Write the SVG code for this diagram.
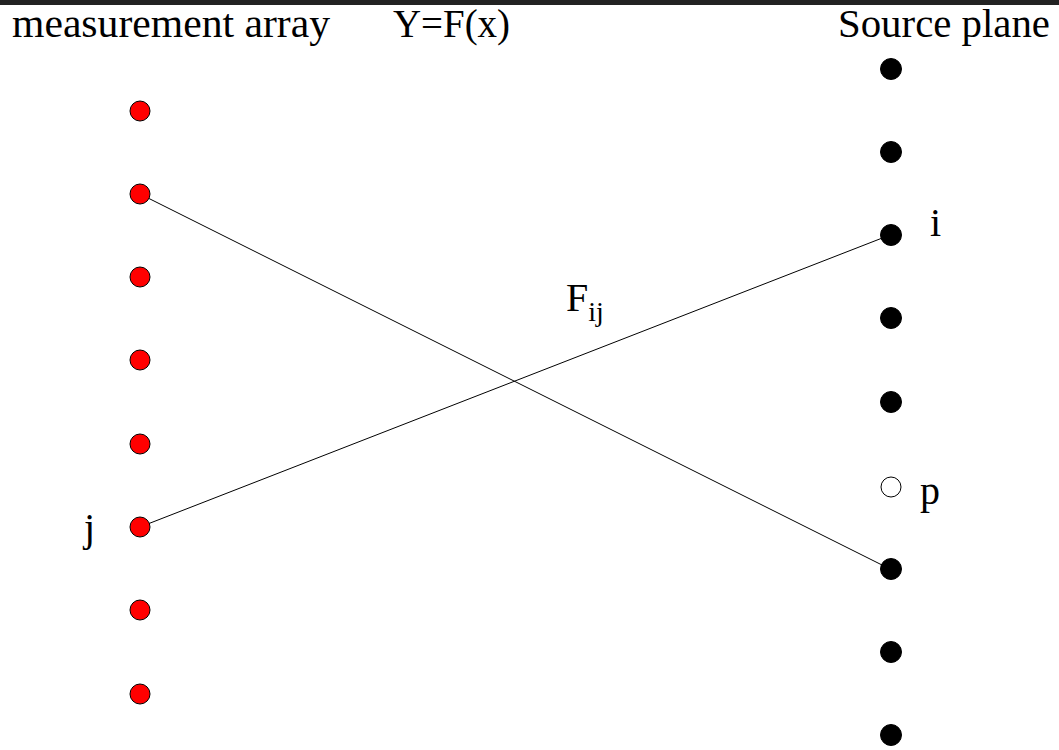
<svg xmlns="http://www.w3.org/2000/svg" width="1059" height="750" viewBox="0 0 1059 750">
<style>
text { font-family: "Liberation Serif", "Times New Roman", serif; font-size: 40px; fill: #000; }
.title { font-size: 40px; }
.red { fill: #ff0000; stroke: #000; stroke-width: 1; }
.blk { fill: #000; stroke: #000; stroke-width: 1; }
.open { fill: #fff; stroke: #000; stroke-width: 1; }
.conn { stroke: #000; stroke-width: 1; fill: none; }
</style>
<rect x="0" y="0" width="1059" height="750" fill="#fff"/>
<rect x="0" y="0" width="1059" height="5" fill="#222"/>
<g id="titles">
<text class="title" x="12" y="37" textLength="318" lengthAdjust="spacingAndGlyphs">measurement array</text>
<text class="title" x="393" y="37" textLength="117" lengthAdjust="spacingAndGlyphs">Y=F(x)</text>
<text class="title" x="838" y="37" textLength="212" lengthAdjust="spacingAndGlyphs">Source plane</text>
</g>
<g id="connectors">
<line class="conn" x1="140" y1="194" x2="890" y2="569"/>
<line class="conn" x1="140" y1="527" x2="890" y2="235"/>
</g>
<g id="measurement">
<circle id="m1" class="red" cx="140" cy="111" r="10"/>
<circle id="m2" class="red" cx="140" cy="194" r="10"/>
<circle id="m3" class="red" cx="140" cy="277" r="10"/>
<circle id="m4" class="red" cx="140" cy="360" r="10"/>
<circle id="m5" class="red" cx="140" cy="444" r="10"/>
<circle id="m6" class="red" cx="140" cy="527" r="10"/>
<circle id="m7" class="red" cx="140" cy="610" r="10"/>
<circle id="m8" class="red" cx="140" cy="694" r="10"/>
</g>
<g id="source">
<circle id="s1" class="blk" cx="891" cy="69" r="10.5"/>
<circle id="s2" class="blk" cx="891" cy="152" r="10.5"/>
<circle id="s3" class="blk" cx="891" cy="235" r="10.5"/>
<circle id="s4" class="blk" cx="891" cy="318" r="10.5"/>
<circle id="s5" class="blk" cx="891" cy="402" r="10.5"/>
<circle id="s6" class="open" cx="891" cy="487" r="10"/>
<circle id="s7" class="blk" cx="891" cy="569" r="10.5"/>
<circle id="s8" class="blk" cx="891" cy="652" r="10.5"/>
<circle id="s9" class="blk" cx="891" cy="735" r="10.5"/>
</g>
<g id="labels">
<text x="930" y="236">i</text>
<text x="920" y="504">p</text>
<text x="84" y="541">j</text>
<text x="566" y="311">F<tspan font-size="28" dy="10">ij</tspan></text>
</g>
</svg>
